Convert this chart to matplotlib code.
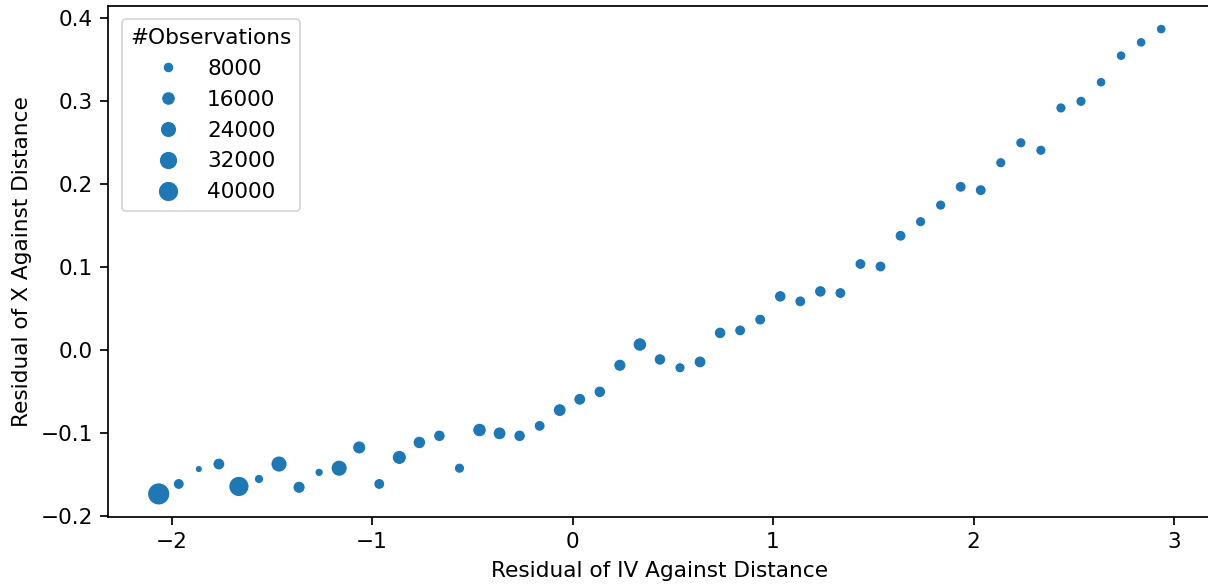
import matplotlib
matplotlib.use("Agg")
import matplotlib.pyplot as plt
from matplotlib.lines import Line2D
import numpy as np

# ---- data ----
x_resid = [-2.064, -1.964, -1.864, -1.764, -1.664, -1.564, -1.464, -1.364, -1.264, -1.164,
           -1.064, -0.964, -0.864, -0.764, -0.664, -0.564, -0.464, -0.364, -0.264, -0.164,
           -0.064, 0.036, 0.136, 0.236, 0.336, 0.436, 0.536, 0.636, 0.736, 0.836,
           0.936, 1.036, 1.136, 1.236, 1.336, 1.436, 1.536, 1.636, 1.736, 1.836,
           1.936, 2.036, 2.136, 2.236, 2.336, 2.436, 2.536, 2.636, 2.736, 2.836, 2.936]
y_resid = [-0.173, -0.161, -0.143, -0.137, -0.164, -0.155, -0.137, -0.165, -0.147, -0.142,
           -0.117, -0.161, -0.129, -0.111, -0.103, -0.142, -0.096, -0.100, -0.103, -0.091,
           -0.072, -0.059, -0.050, -0.018, 0.007, -0.011, -0.021, -0.014, 0.021, 0.024,
           0.037, 0.065, 0.059, 0.071, 0.069, 0.104, 0.101, 0.138, 0.155, 0.175,
           0.197, 0.193, 0.226, 0.250, 0.241, 0.292, 0.300, 0.323, 0.355, 0.371, 0.387]
n_obs = [49000, 8700, 1300, 11100, 40000, 5100, 24000, 11900, 3300, 24000,
         14500, 8700, 17500, 12900, 10300, 7100, 15700, 13700, 10300, 8700,
         13700, 11100, 10300, 11900, 15700, 10300, 7100, 11100, 10300, 8700,
         8700, 10300, 8700, 10300, 8700, 8700, 8700, 8700, 7100, 7100,
         8700, 8700, 7100, 7100, 7100, 7100, 7100, 5900, 5900, 5900, 5900]
legend_values = [8000, 16000, 24000, 32000, 40000]
legend_title = "#Observations"
x_label = "Residual of IV Against Distance"
y_label = "Residual of X Against Distance"

COLOR = "#1f77b4"
DPI = 128
W, H = 1208, 586
SCALE = 1.22

plt.rcParams.update({
    "font.size": 10 * SCALE,
    "axes.linewidth": 0.8 * SCALE,
    "xtick.major.width": 0.8 * SCALE,
    "ytick.major.width": 0.8 * SCALE,
    "xtick.major.size": 3.5 * SCALE,
    "ytick.major.size": 3.5 * SCALE,
    "xtick.major.pad": 3.5 * SCALE,
    "ytick.major.pad": 3.5 * SCALE,
    "axes.labelpad": 4.0 * SCALE,
    "legend.frameon": True,
})


def size_of(n):
    # marker area (points^2), linear in the number of observations
    return 12.5 + 0.0029375 * np.asarray(n, dtype=float)


fig = plt.figure(figsize=(W / DPI, H / DPI), dpi=DPI)
left, right, top, bottom = 108.4, 1211.3, 6.1, 517.0
ax = fig.add_axes([left / W, 1 - bottom / H, (right - left) / W, (bottom - top) / H])

ax.scatter(x_resid, y_resid, s=size_of(n_obs), color=COLOR,
           edgecolors="white", linewidths=0.6, zorder=3)

ax.set_xlim(-2.315, 3.186)
ax.set_ylim(-0.2008, 0.4147)
ax.set_xticks([-2, -1, 0, 1, 2, 3])
ax.set_yticks([-0.2, -0.1, 0.0, 0.1, 0.2, 0.3, 0.4])
ax.xaxis.set_major_formatter(matplotlib.ticker.FuncFormatter(lambda v, p: f"{v:g}".replace("-", "\u2212")))
ax.yaxis.set_major_formatter(matplotlib.ticker.FuncFormatter(lambda v, p: f"{v:.1f}".replace("-", "\u2212")))

ax.set_xlabel(x_label)
ax.set_ylabel(y_label)

handles = [Line2D([], [], linestyle="", marker="o", color=COLOR,
                  markeredgecolor="white", markeredgewidth=0.6,
                  markersize=np.sqrt(size_of(v))) for v in legend_values]
ax.legend(handles, [str(v) for v in legend_values], title=legend_title,
          loc="upper left", borderaxespad=0.5 * SCALE)

fig.savefig("out.png", dpi=DPI)
